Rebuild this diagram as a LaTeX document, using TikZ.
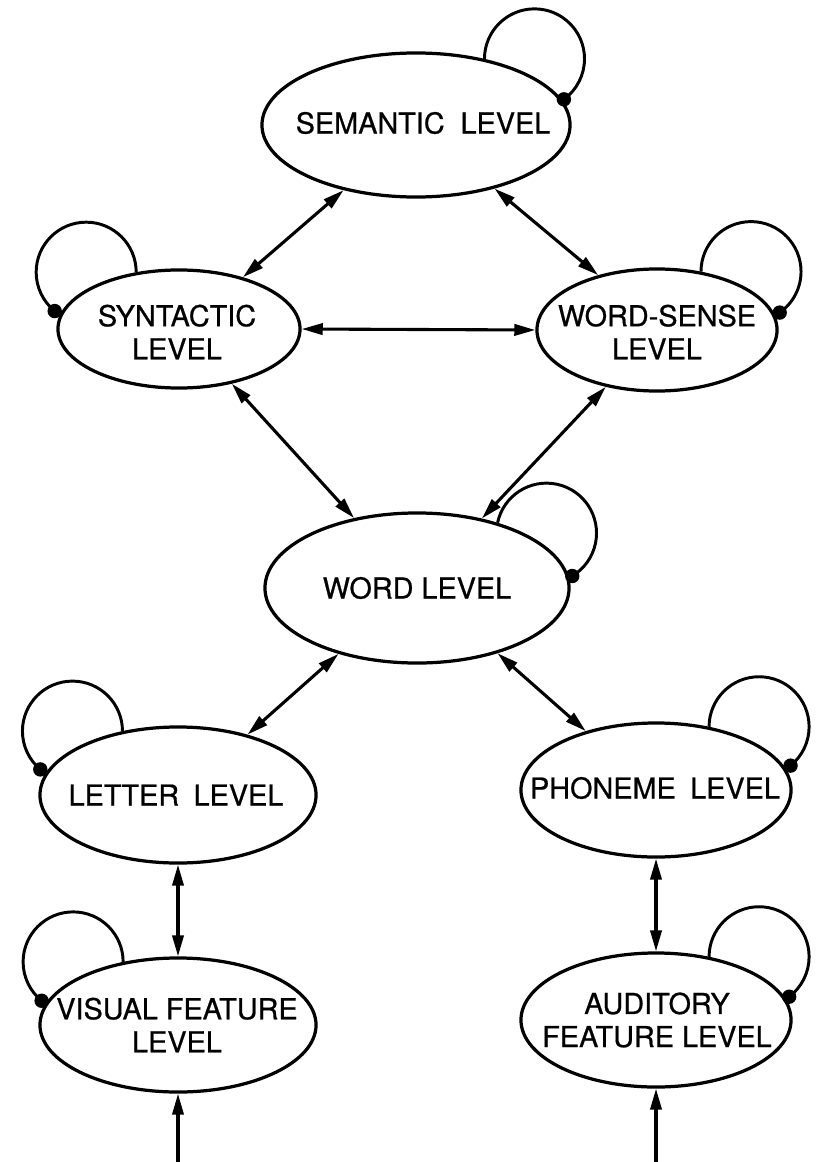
\documentclass[tikz,border=0pt]{standalone}
\usepackage{fontspec}
\setmainfont{TeX Gyre Heros}
\newfontfamily\lblfont{TeX Gyre Heros}[FakeBold=0.7]
\usetikzlibrary{shapes.geometric,arrows.meta}
\begin{document}
\begin{tikzpicture}[x=0.025cm,y=-0.025cm,
  lvl/.style={ellipse,draw,line width=2.3pt,inner sep=0pt},
  lbl/.style={align=center,font=\lblfont\fontsize{20.5}{23.5}\selectfont,inner sep=0pt},
  link/.style={line width=2.2pt,{Triangle[length=15pt,width=8pt]}-{Triangle[length=15pt,width=8pt]}},
  uni/.style={line width=2.2pt,-{Triangle[length=15pt,width=8pt]}},
  loopline/.style={line width=2.1pt},
  dotfill/.style={fill=black}
]
\useasboundingbox (0,0) rectangle (816,1162);

% level ellipses
\node[lvl,minimum width=7.7cm,minimum height=3.6cm]  (sem)  at (416,125)  {};
\node[lvl,minimum width=6.05cm,minimum height=2.95cm] (syn)  at (179,329)  {};
\node[lvl,minimum width=6.0cm,minimum height=3.05cm] (ws)   at (657,330)  {};
\node[lvl,minimum width=7.6cm,minimum height=3.75cm] (word) at (417,588)  {};
\node[lvl,minimum width=6.9cm,minimum height=3.4cm]  (let)  at (178,795)  {};
\node[lvl,minimum width=6.75cm,minimum height=3.35cm] (pho) at (656,790)  {};
\node[lvl,minimum width=6.9cm,minimum height=3.35cm] (vis)  at (178,1025) {};
\node[lvl,minimum width=6.75cm,minimum height=3.35cm] (aud) at (656,1020) {};

% labels
\node[lbl] (semT)  at (423,123)  {SEMANTIC\hspace{0.55em}LEVEL};
\node[lbl] (synT)  at (177,332)  {SYNTACTIC\\LEVEL};
\node[lbl] (wsT)   at (657,332)  {WORD-SENSE\\LEVEL};
\node[lbl] (wordT) at (417,588)  {WORD LEVEL};
\node[lbl] (letT)  at (176,795)  {LETTER\hspace{0.5em}LEVEL};
\node[lbl] (phoT)  at (655,788)  {PHONEME\hspace{0.5em}LEVEL};
\node[lbl] (visT)  at (177,1025) {VISUAL FEATURE\\LEVEL};
\node[lbl] (audT)  at (657,1020) {AUDITORY\\FEATURE LEVEL};

% bidirectional links
\draw[link] (sem.222) -- (syn.39);
\draw[link] (sem.321) -- (ws.137);
\draw[link] (syn.0) -- (ws.180);
\draw[link] (syn.314) -- (word.132);
\draw[link] (ws.228) -- (word.47);
\draw[link] (word.220) -- (let.41);
\draw[link] (word.321) -- (pho.140);
\draw[link] (let.south) -- (vis.north);
\draw[link] (pho.south) -- (aud.north);

% inputs
\coordinate (visIn) at (178,1162);
\coordinate (audIn) at (656,1162);
\draw[uni] (visIn) -- (vis.south);
\draw[uni] (audIn) -- (aud.south);

% self loops
\draw[loopline] (sem.44) arc[start angle=180,end angle=-54,radius=1.25cm] coordinate (semD);
\fill[dotfill] (semD) circle[radius=0.18cm];
\draw[loopline] (syn.127) arc[start angle=0,end angle=231,radius=1.25cm] coordinate (synD);
\fill[dotfill] (synD) circle[radius=0.18cm];
\draw[loopline] (ws.53) arc[start angle=180,end angle=-55,radius=1.25cm] coordinate (wsD);
\fill[dotfill] (wsD) circle[radius=0.18cm];
\draw[loopline] (word.39) arc[start angle=168,end angle=-59,radius=1.25cm] coordinate (wordD);
\fill[dotfill] (wordD) circle[radius=0.18cm];
\draw[loopline] (let.131) arc[start angle=0,end angle=230,radius=1.25cm] coordinate (letD);
\fill[dotfill] (letD) circle[radius=0.18cm];
\draw[loopline] (pho.50) arc[start angle=180,end angle=-51,radius=1.25cm] coordinate (phoD);
\fill[dotfill] (phoD) circle[radius=0.18cm];
\draw[loopline] (vis.131) arc[start angle=0,end angle=231,radius=1.25cm] coordinate (visD);
\fill[dotfill] (visD) circle[radius=0.18cm];
\draw[loopline] (aud.50) arc[start angle=180,end angle=-53,radius=1.25cm] coordinate (audD);
\fill[dotfill] (audD) circle[radius=0.18cm];
\end{tikzpicture}
\end{document}
